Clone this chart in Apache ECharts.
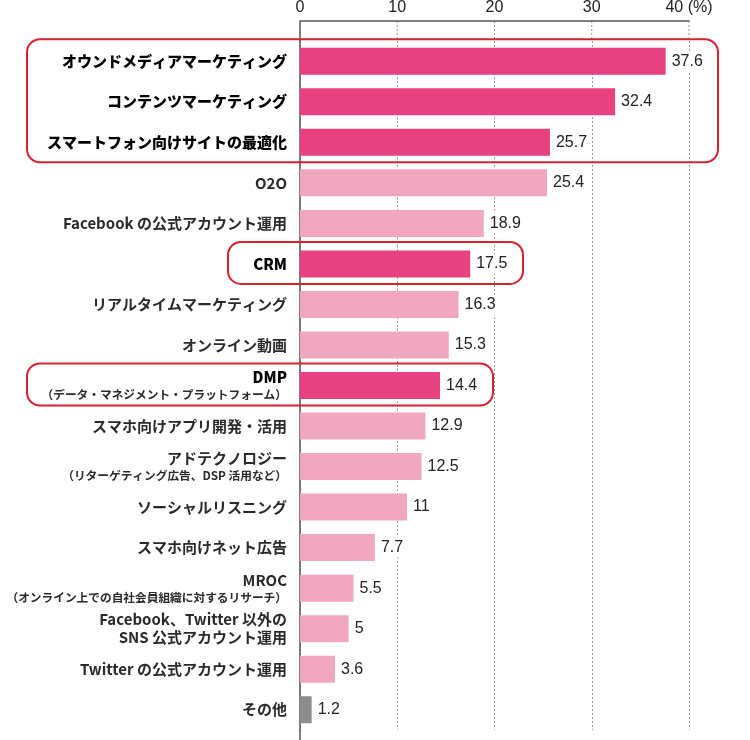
<!DOCTYPE html>
<html>
<head>
<meta charset="utf-8">
<script src="https://cdn.jsdelivr.net/npm/echarts@6/dist/echarts.min.js"></script>
<style>html,body{margin:0;padding:0;background:#fff;}#c{width:750px;height:740px;}</style>
</head>
<body>
<div id="c"></div>
<script>
var categories = [
  'オウンドメディアマーケティング',
  'コンテンツマーケティング',
  'スマートフォン向けサイトの最適化',
  'O2O',
  'Facebook の公式アカウント運用',
  'CRM',
  'リアルタイムマーケティング',
  'オンライン動画',
  'DMP\n（データ・マネジメント・プラットフォーム）',
  'スマホ向けアプリ開発・活用',
  'アドテクノロジー\n（リターゲティング広告、DSP 活用など）',
  'ソーシャルリスニング',
  'スマホ向けネット広告',
  'MROC\n（オンライン上での自社会員組織に対するリサーチ）',
  'Facebook、Twitter 以外の\nSNS 公式アカウント運用',
  'Twitter の公式アカウント運用',
  'その他'
];
var values = [37.6, 32.4, 25.7, 25.4, 18.9, 17.5, 16.3, 15.3, 14.4, 12.9, 12.5, 11, 7.7, 5.5, 5, 3.6, 1.2];
var highlighted = [0, 1, 2, 5, 8];
var otherIndex = [16];
var tickValues = [0, 10, 20, 30, 40];
var highlightGroups = [[0, 2], [5, 5], [8, 8]];

var DARK = '#e8417f', LIGHT = '#f2a7c0', GRAY = '#8c8c8c';
var JP = "'Noto Sans CJK JP', 'Noto Sans', sans-serif";
var LAT = "'Liberation Sans', Arial, sans-serif";

var chart = echarts.init(document.getElementById('c'));

var option = {
  animation: false,
  backgroundColor: '#fff',
  grid: { left: 300, right: 61, top: 41, bottom: 10, containLabel: false, outerBoundsMode: 'none' },
  xAxis: {
    type: 'value', position: 'top', offset: 20,
    min: 0, max: 40, interval: 10,
    axisLine: { show: true, lineStyle: { color: '#555', width: 1.5 } },
    axisTick: { show: false },
    axisLabel: {
      margin: 5, color: '#222', fontSize: 16, fontFamily: LAT,
      formatter: function (v) { return v === 40 ? '40 (%)' : String(v); }
    },
    splitLine: { show: true, lineStyle: { color: '#999', type: [2, 2], width: 1 } }
  },
  yAxis: {
    type: 'category', inverse: true, data: categories,
    axisLine: { show: true, lineStyle: { color: '#555', width: 1.5 } },
    axisTick: { show: false },
    axisLabel: {
      margin: 13, align: 'right',
      formatter: function (v, i) {
        var hl = highlighted.indexOf(i) >= 0;
        var lines = v.split('\n');
        return lines.map(function (l, k) {
          if (k > 0 && l.charAt(0) === '（') return '{s|' + l + '}';
          return (hl ? '{h|' : '{n|') + l + '}';
        }).join('\n');
      },
      rich: {
        h: { fontFamily: JP, fontSize: 15, fontWeight: 900, color: '#000', lineHeight: 18 },
        n: { fontFamily: JP, fontSize: 15, fontWeight: 'bold', color: '#2a2a2a', lineHeight: 18 },
        s: { fontFamily: JP, fontSize: 11.7, fontWeight: 'bold', color: '#2a2a2a', lineHeight: 16 }
      }
    }
  },
  series: [{
    type: 'bar',
    data: values.map(function (v, i) {
      var c = highlighted.indexOf(i) >= 0 ? DARK : (otherIndex.indexOf(i) >= 0 ? GRAY : LIGHT);
      return { value: v, itemStyle: { color: c } };
    }),
    barWidth: 27,
    label: {
      show: true, position: 'right', distance: 5,
      fontFamily: LAT, fontSize: 16, color: '#222',
      backgroundColor: '#fff', padding: [2, 1]
    }
  }]
};
chart.setOption(option);

// decorations: axis extensions and highlight boxes, positioned via the chart's scales
var g = [];
var topY = 21;
var gTop = chart.convertToPixel({ yAxisIndex: 0 }, 0) - 20.25;
var gBot = chart.convertToPixel({ yAxisIndex: 0 }, categories.length - 1) + 20.25;
var x0 = chart.convertToPixel({ xAxisIndex: 0 }, 0);
g.push({ type: 'line', shape: { x1: x0, y1: topY, x2: x0, y2: gTop }, style: { stroke: '#555', lineWidth: 1.5 } });
g.push({ type: 'line', shape: { x1: x0, y1: gBot, x2: x0, y2: 740 }, style: { stroke: '#555', lineWidth: 1.5 } });
tickValues.slice(1).forEach(function (t) {
  var x = chart.convertToPixel({ xAxisIndex: 0 }, t);
  g.push({ type: 'line', shape: { x1: x, y1: topY, x2: x, y2: gTop }, style: { stroke: '#999', lineWidth: 1, lineDash: [2, 2] } });
});
var boxX = [[27, 718], [228, 523], [27, 493]];
highlightGroups.forEach(function (gr, k) {
  var y1 = chart.convertToPixel({ yAxisIndex: 0 }, gr[0]) - 22;
  var y2 = chart.convertToPixel({ yAxisIndex: 0 }, gr[1]) + 20;
  g.push({
    type: 'rect', z: 100,
    shape: { x: boxX[k][0], y: y1, width: boxX[k][1] - boxX[k][0], height: y2 - y1, r: 13 },
    style: { fill: 'none', stroke: '#d9202e', lineWidth: 2 }
  });
});
chart.setOption({ graphic: g });
</script>
</body>
</html>
